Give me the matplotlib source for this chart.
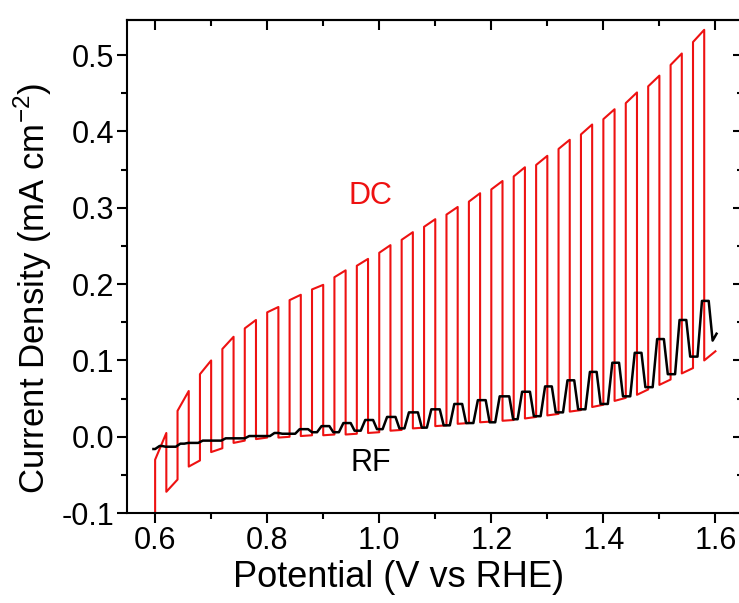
import matplotlib.pyplot as plt

plt.rcParams['font.family'] = ['Liberation Sans', 'DejaVu Sans']

# DC film: chopped light, light on between on/off potentials
dc_on_v = [0.60, 0.64, 0.68, 0.72, 0.76, 0.80, 0.84, 0.88, 0.92, 0.96, 1.00, 1.04, 1.08,
           1.12, 1.16, 1.20, 1.24, 1.28, 1.32, 1.36, 1.40, 1.44, 1.48, 1.52, 1.56]
dc_off_v = [0.62, 0.66, 0.70, 0.74, 0.78, 0.82, 0.86, 0.90, 0.94, 0.98, 1.02, 1.06, 1.10,
            1.14, 1.18, 1.22, 1.26, 1.30, 1.34, 1.38, 1.42, 1.46, 1.50, 1.54, 1.58]
dc_end_v = 1.60
dc_start_j = -0.10
# current at start / end of each light period
dc_light_a = [-0.030, 0.034, 0.082, 0.115, 0.142, 0.163, 0.179, 0.193, 0.209, 0.224, 0.241,
              0.258, 0.275, 0.291, 0.308, 0.324, 0.341, 0.356, 0.377, 0.396, 0.416, 0.437,
              0.459, 0.487, 0.517]
dc_light_b = [0.005, 0.060, 0.100, 0.131, 0.153, 0.170, 0.186, 0.199, 0.218, 0.233, 0.251,
              0.268, 0.285, 0.301, 0.319, 0.335, 0.353, 0.368, 0.389, 0.409, 0.429, 0.451,
              0.473, 0.502, 0.533]
# current at start / end of each dark period
dc_dark_a = [-0.072, -0.039, -0.020, -0.008, -0.003, -0.001, 0.001, 0.002, 0.003, 0.005,
             0.008, 0.011, 0.014, 0.017, 0.019, 0.021, 0.024, 0.028, 0.033, 0.039, 0.047,
             0.055, 0.068, 0.083, 0.100]
dc_dark_b = [-0.056, -0.031, -0.015, -0.005, -0.001, 0.000, 0.002, 0.003, 0.004, 0.006,
             0.009, 0.012, 0.015, 0.018, 0.020, 0.022, 0.026, 0.030, 0.035, 0.042, 0.051,
             0.062, 0.075, 0.090, 0.112]

# RF film: slower response, rise / fall potentials
rf_rise_v = [0.600, 0.637, 0.677, 0.718, 0.760, 0.805, 0.850, 0.889, 0.928, 0.967, 1.006,
             1.045, 1.085, 1.126, 1.168, 1.207, 1.247, 1.288, 1.328, 1.368, 1.408, 1.448,
             1.488, 1.528, 1.568]
rf_fall_v = [0.612, 0.652, 0.692, 0.733, 0.776, 0.820, 0.873, 0.911, 0.949, 0.989, 1.029,
             1.069, 1.108, 1.148, 1.190, 1.232, 1.269, 1.308, 1.348, 1.388, 1.428, 1.468,
             1.508, 1.548, 1.588]
rf_hi = [-0.012, -0.009, -0.005, -0.002, 0.001, 0.005, 0.010, 0.014, 0.018, 0.022, 0.026,
         0.032, 0.036, 0.043, 0.048, 0.053, 0.059, 0.066, 0.074, 0.085, 0.097, 0.110,
         0.128, 0.153, 0.178]
rf_lo = [-0.019, -0.013, -0.008, -0.005, -0.002, 0.001, 0.004, 0.006, 0.006, 0.008, 0.010,
         0.011, 0.012, 0.015, 0.018, 0.019, 0.023, 0.027, 0.032, 0.036, 0.043, 0.053,
         0.065, 0.082, 0.105, 0.126]
rf_start = (0.597, -0.016)
rf_end = (1.602, 0.135)
ramp_up = 0.008
ramp_down = 0.007

x_major = [0.6, 0.8, 1.0, 1.2, 1.4, 1.6]
x_minor = [0.7, 0.9, 1.1, 1.3, 1.5]
y_major = [-0.1, 0.0, 0.1, 0.2, 0.3, 0.4, 0.5]
y_minor = [-0.05, 0.05, 0.15, 0.25, 0.35, 0.45]


def dc_path():
    xs, ys = [dc_on_v[0]], [dc_start_j]
    for k in range(len(dc_on_v)):
        nxt = dc_on_v[k + 1] if k + 1 < len(dc_on_v) else dc_end_v
        xs += [dc_on_v[k], dc_off_v[k], dc_off_v[k], nxt]
        ys += [dc_light_a[k], dc_light_b[k], dc_dark_a[k], dc_dark_b[k]]
    return xs, ys


def rf_path():
    xs, ys = [rf_start[0]], [rf_start[1]]
    for j in range(len(rf_rise_v)):
        lo_before = rf_lo[j] if j > 0 else rf_start[1]
        xs += [rf_rise_v[j], rf_rise_v[j] + ramp_up, rf_fall_v[j], rf_fall_v[j] + ramp_down]
        ys += [lo_before, rf_hi[j], rf_hi[j], rf_lo[j + 1]]
    xs.append(rf_end[0])
    ys.append(rf_end[1])
    return xs, ys


fig = plt.figure(figsize=(7.39, 6.03), dpi=100)
ax = fig.add_axes([0.172, 0.149, 0.834, 0.818])

x, y = dc_path()
ax.plot(x, y, color='#ee1111', lw=1.5)
x, y = rf_path()
ax.plot(x, y, color='black', lw=1.8)

ax.text(0.985, 0.315, 'DC', color='#ee1111', fontsize=22, ha='center', va='center')
ax.text(0.985, -0.034, 'RF', color='black', fontsize=22, ha='center', va='center')

ax.set_xlim(0.55, 1.65)
ax.set_ylim(-0.1, 0.546)
ax.set_xticks(x_major)
ax.set_xticks(x_minor, minor=True)
ax.set_yticks(y_major)
ax.set_yticks(y_minor, minor=True)
ax.set_xticklabels(['0.6', '0.8', '1.0', '1.2', '1.4', '1.6'])
ax.set_yticklabels(['-0.1', '0.0', '0.1', '0.2', '0.3', '0.4', '0.5'])
ax.tick_params(which='both', direction='out', width=1.5, labelsize=22, pad=2)
ax.tick_params(which='major', length=7)
ax.tick_params(which='minor', length=4)
for s in ax.spines.values():
    s.set_linewidth(1.5)
# the right edge of the frame lies just outside the picture
ax.spines['right'].set_visible(False)

# mirrored inward ticks on top / right
tx = ax.secondary_xaxis('top')
tx.set_xticks(x_major)
tx.set_xticks(x_minor, minor=True)
tx.tick_params(which='both', direction='in', width=1.5, labeltop=False)
tx.tick_params(which='major', length=7)
tx.tick_params(which='minor', length=4)
tx.spines['top'].set_linewidth(1.5)
ty = ax.secondary_yaxis('right')
ty.set_yticks(y_major)
ty.set_yticks(y_minor, minor=True)
ty.tick_params(which='both', direction='in', width=1.5, labelright=False)
ty.tick_params(which='major', length=7)
ty.tick_params(which='minor', length=4)
for s in ty.spines.values():
    s.set_visible(False)

ax.set_xlabel('Potential (V vs RHE)', fontsize=26)
ax.xaxis.set_label_coords(0.44, -0.095)
ax.set_ylabel('Current Density (mA cm$^{\\mathregular{-2}}$)', fontsize=25)
ax.yaxis.set_label_coords(-0.118, 0.455)

fig.savefig('out.png', dpi=100)
